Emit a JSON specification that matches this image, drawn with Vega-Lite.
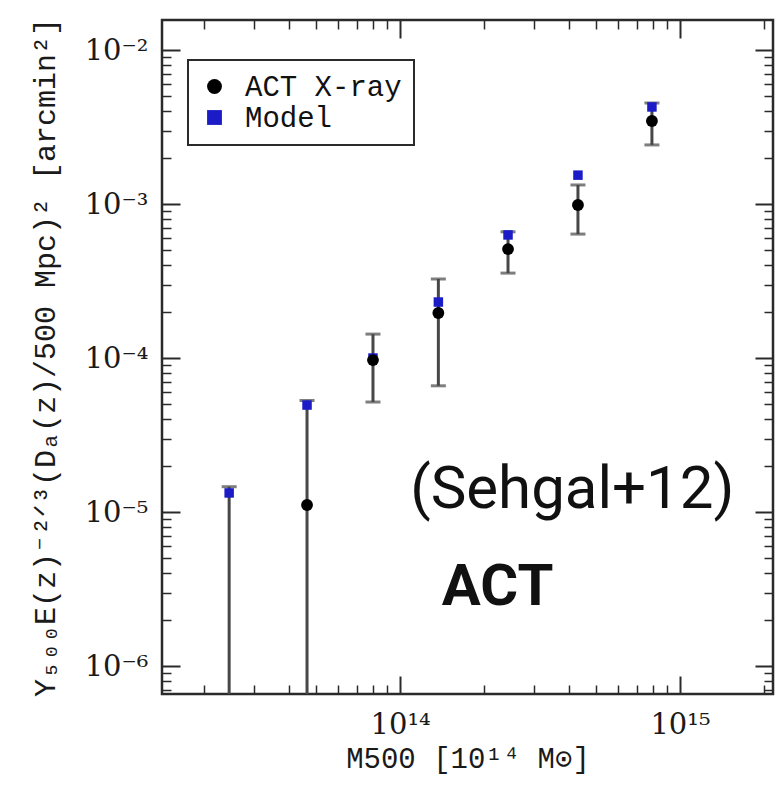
{
  "$schema": "https://vega.github.io/schema/vega-lite/v6.json",
  "width": 611,
  "height": 674,
  "autosize": {"type": "none"},
  "padding": {"left": 162, "top": 20, "right": 4, "bottom": 93},
  "background": "white",
  "config": {
    "view": {"stroke": "#2a2a2a", "strokeWidth": 2.5},
    "axis": {
      "domain": false,
      "grid": false,
      "tickColor": "#2a2a2a",
      "labelFont": "DejaVu Serif, Liberation Serif",
      "labelColor": "#1a1a1a",
      "labelFontSize": 29,
      "titleFont": "Liberation Mono, DejaVu Sans Mono",
      "titleColor": "#1a1a1a",
      "titleFontWeight": "normal",
      "titleFontSize": 29,
      "labelFlush": false,
      "labelOverlap": false
    },
    "legend": {
      "strokeColor": "#2a2a2a",
      "strokeWidth": 2,
      "fillColor": "white",
      "padding": 12,
      "labelFont": "Liberation Mono, DejaVu Sans Mono",
      "labelFontSize": 29,
      "labelColor": "#111111",
      "labelOffset": 16,
      "symbolSize": 220,
      "symbolStrokeWidth": 0,
      "rowPadding": 1
    }
  },
  "datasets": {
    "bins": [
      {"m": 2.45e13, "lo": 1e-7, "hi": 1.46e-5},
      {"m": 4.65e13, "lo": 1e-7, "hi": 5.3e-5},
      {"m": 8.0e13, "lo": 5.18e-5, "hi": 1.43e-4},
      {"m": 1.37e14, "lo": 6.6e-5, "hi": 3.26e-4},
      {"m": 2.43e14, "lo": 3.56e-4, "hi": 6.6e-4},
      {"m": 4.32e14, "lo": 6.38e-4, "hi": 1.33e-3},
      {"m": 7.94e14, "lo": 2.42e-3, "hi": 4.53e-3}
    ],
    "points": [
      {"m": 2.45e13, "y": 1.33e-5, "series": "Model"},
      {"m": 4.65e13, "y": 4.95e-5, "series": "Model"},
      {"m": 8.0e13, "y": 1.0e-4, "series": "Model"},
      {"m": 1.37e14, "y": 2.31e-4, "series": "Model"},
      {"m": 2.43e14, "y": 6.3e-4, "series": "Model"},
      {"m": 4.32e14, "y": 1.54e-3, "series": "Model"},
      {"m": 7.94e14, "y": 4.27e-3, "series": "Model"},
      {"m": 4.65e13, "y": 1.11e-5, "series": "ACT X-ray"},
      {"m": 8.0e13, "y": 9.7e-5, "series": "ACT X-ray"},
      {"m": 1.37e14, "y": 1.96e-4, "series": "ACT X-ray"},
      {"m": 2.43e14, "y": 5.1e-4, "series": "ACT X-ray"},
      {"m": 4.32e14, "y": 9.86e-4, "series": "ACT X-ray"},
      {"m": 7.94e14, "y": 3.46e-3, "series": "ACT X-ray"}
    ]
  },
  "layer": [
    {
      "data": {"name": "bins"},
      "mark": {"type": "rule", "color": "#474747", "strokeWidth": 3, "clip": true},
      "encoding": {
        "x": {
          "field": "m", "type": "quantitative",
          "scale": {"type": "log", "domain": [1.41e13, 2.15e15], "nice": false},
          "axis": {
            "orient": "bottom", "values": [1e14, 1e15], "tickSize": -18, "tickWidth": 2,
            "labelPadding": 34,
            "labelExpr": "datum.value > 5e14 ? '10¹⁵' : '10¹⁴'",
            "title": "M500 [10¹⁴ M⊙]", "titlePadding": 5
          }
        },
        "y": {
          "field": "lo", "type": "quantitative",
          "scale": {"type": "log", "domain": [6.58e-7, 1.567e-2], "nice": false},
          "axis": {
            "orient": "left", "values": [1e-6, 1e-5, 1e-4, 1e-3, 1e-2], "tickSize": -18, "tickWidth": 2,
            "labelPadding": 32,
            "labelExpr": "round(log(datum.value)/LN10) == -2 ? '10⁻²' : round(log(datum.value)/LN10) == -3 ? '10⁻³' : round(log(datum.value)/LN10) == -4 ? '10⁻⁴' : round(log(datum.value)/LN10) == -5 ? '10⁻⁵' : '10⁻⁶'",
            "title": "Y₅₀₀E(z)⁻²ᐟ³(Dₐ(z)/500 Mpc)² [arcmin²]", "titlePadding": 24, "titleFontSize": 30
          }
        },
        "y2": {"field": "hi"}
      }
    },
    {
      "data": {"name": "bins"},
      "mark": {"type": "tick", "orient": "horizontal", "color": "#474747", "size": 15, "thickness": 3, "clip": true},
      "encoding": {
        "x": {
          "field": "m", "type": "quantitative",
          "scale": {"type": "log", "domain": [1.41e13, 2.15e15], "nice": false},
          "axis": {
            "orient": "bottom",
            "values": [2e13, 3e13, 4e13, 5e13, 6e13, 7e13, 8e13, 9e13, 2e14, 3e14, 4e14, 5e14, 6e14, 7e14, 8e14, 9e14, 2e15],
            "tickSize": -9, "tickWidth": 1.5, "labels": false, "title": null
          }
        },
        "y": {
          "field": "hi", "type": "quantitative",
          "scale": {"type": "log", "domain": [6.58e-7, 1.567e-2], "nice": false},
          "axis": {
            "orient": "left",
            "values": [7e-7, 8e-7, 9e-7, 2e-6, 3e-6, 4e-6, 5e-6, 6e-6, 7e-6, 8e-6, 9e-6, 2e-5, 3e-5, 4e-5, 5e-5, 6e-5, 7e-5, 8e-5, 9e-5, 2e-4, 3e-4, 4e-4, 5e-4, 6e-4, 7e-4, 8e-4, 9e-4, 2e-3, 3e-3, 4e-3, 5e-3, 6e-3, 7e-3, 8e-3, 9e-3],
            "tickSize": -9, "tickWidth": 1.5, "labels": false, "title": null
          }
        }
      }
    },
    {
      "data": {"name": "bins"},
      "mark": {"type": "tick", "orient": "horizontal", "color": "#474747", "size": 15, "thickness": 3, "clip": true},
      "encoding": {
        "x": {
          "field": "m", "type": "quantitative",
          "scale": {"type": "log", "domain": [1.41e13, 2.15e15], "nice": false},
          "axis": {"orient": "top", "values": [1e14, 1e15], "tickSize": -18, "tickWidth": 2, "labels": false, "title": null}
        },
        "y": {
          "field": "lo", "type": "quantitative",
          "scale": {"type": "log", "domain": [6.58e-7, 1.567e-2], "nice": false},
          "axis": {"orient": "right", "values": [1e-6, 1e-5, 1e-4, 1e-3, 1e-2], "tickSize": -18, "tickWidth": 2, "labels": false, "title": null}
        }
      }
    },
    {
      "data": {"name": "points"},
      "transform": [{"filter": "datum.series == 'Model'"}],
      "mark": {"type": "point", "filled": true, "size": 90, "opacity": 1, "clip": true},
      "encoding": {
        "x": {
          "field": "m", "type": "quantitative",
          "scale": {"type": "log", "domain": [1.41e13, 2.15e15], "nice": false},
          "axis": {
            "orient": "top",
            "values": [2e13, 3e13, 4e13, 5e13, 6e13, 7e13, 8e13, 9e13, 2e14, 3e14, 4e14, 5e14, 6e14, 7e14, 8e14, 9e14, 2e15],
            "tickSize": -9, "tickWidth": 1.5, "labels": false, "title": null
          }
        },
        "y": {
          "field": "y", "type": "quantitative",
          "scale": {"type": "log", "domain": [6.58e-7, 1.567e-2], "nice": false},
          "axis": {
            "orient": "right",
            "values": [7e-7, 8e-7, 9e-7, 2e-6, 3e-6, 4e-6, 5e-6, 6e-6, 7e-6, 8e-6, 9e-6, 2e-5, 3e-5, 4e-5, 5e-5, 6e-5, 7e-5, 8e-5, 9e-5, 2e-4, 3e-4, 4e-4, 5e-4, 6e-4, 7e-4, 8e-4, 9e-4, 2e-3, 3e-3, 4e-3, 5e-3, 6e-3, 7e-3, 8e-3, 9e-3],
            "tickSize": -9, "tickWidth": 1.5, "labels": false, "title": null
          }
        },
        "color": {
          "field": "series", "type": "nominal",
          "scale": {"domain": ["ACT X-ray", "Model"], "range": ["#000000", "#1b1bc8"]},
          "legend": {"orient": "none", "legendX": 26, "legendY": 40, "title": null}
        },
        "shape": {
          "field": "series", "type": "nominal",
          "scale": {"domain": ["ACT X-ray", "Model"], "range": ["circle", "square"]},
          "legend": {"orient": "none", "legendX": 26, "legendY": 40, "title": null}
        }
      }
    },
    {
      "data": {"name": "points"},
      "transform": [{"filter": "datum.series == 'ACT X-ray'"}],
      "mark": {"type": "point", "filled": true, "size": 140, "opacity": 1, "clip": true},
      "encoding": {
        "x": {
          "field": "m", "type": "quantitative",
          "scale": {"type": "log", "domain": [1.41e13, 2.15e15], "nice": false},
          "axis": null
        },
        "y": {
          "field": "y", "type": "quantitative",
          "scale": {"type": "log", "domain": [6.58e-7, 1.567e-2], "nice": false},
          "axis": null
        },
        "color": {
          "field": "series", "type": "nominal",
          "scale": {"domain": ["ACT X-ray", "Model"], "range": ["#000000", "#1b1bc8"]},
          "legend": {"orient": "none", "legendX": 26, "legendY": 40, "title": null}
        },
        "shape": {
          "field": "series", "type": "nominal",
          "scale": {"domain": ["ACT X-ray", "Model"], "range": ["circle", "square"]},
          "legend": {"orient": "none", "legendX": 26, "legendY": 40, "title": null}
        }
      }
    },
    {
      "data": {"values": [{"m": 1.086e14, "y": 1.06e-5, "label": "(Sehgal+12)"}]},
      "mark": {"type": "text", "align": "left", "baseline": "alphabetic", "font": "Roboto", "fontSize": 60, "color": "#111111"},
      "encoding": {
        "x": {"field": "m", "type": "quantitative", "scale": {"type": "log", "domain": [1.41e13, 2.15e15], "nice": false}, "axis": null},
        "y": {"field": "y", "type": "quantitative", "scale": {"type": "log", "domain": [6.58e-7, 1.567e-2], "nice": false}, "axis": null},
        "text": {"field": "label"}
      }
    },
    {
      "data": {"values": [{"m": 1.41e14, "y": 2.49e-6, "label": "ACT"}]},
      "mark": {"type": "text", "align": "left", "baseline": "alphabetic", "font": "Roboto", "fontWeight": "bold", "fontSize": 58, "color": "#111111"},
      "encoding": {
        "x": {"field": "m", "type": "quantitative", "scale": {"type": "log", "domain": [1.41e13, 2.15e15], "nice": false}, "axis": null},
        "y": {"field": "y", "type": "quantitative", "scale": {"type": "log", "domain": [6.58e-7, 1.567e-2], "nice": false}, "axis": null},
        "text": {"field": "label"}
      }
    }
  ],
  "resolve": {"axis": {"x": "independent", "y": "independent"}}
}
